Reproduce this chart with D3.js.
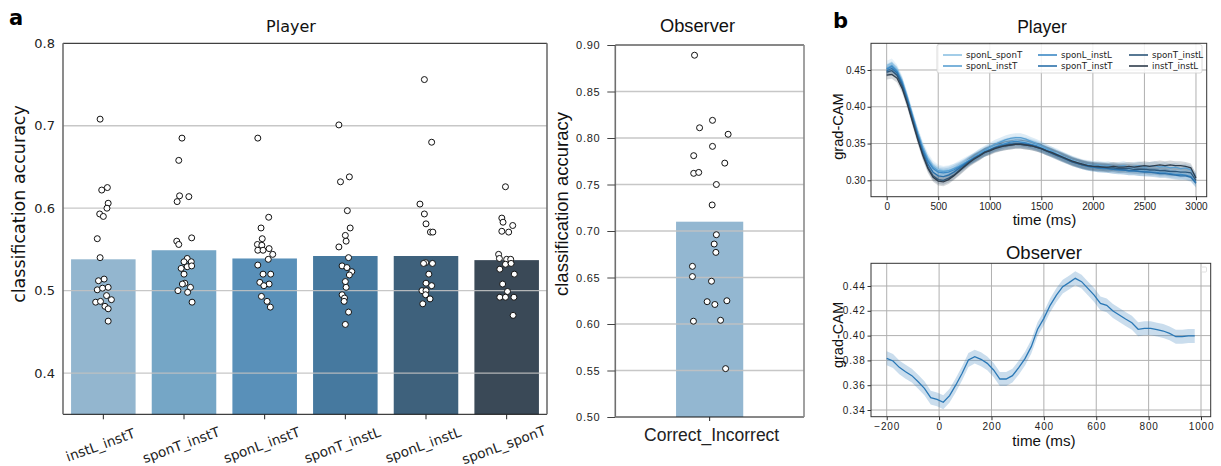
<!DOCTYPE html>
<html>
<head>
<meta charset="utf-8">
<script src="https://cdn.jsdelivr.net/npm/d3@7"></script>
<style>
  body { margin: 0; background: #fff; }
  svg { display: block; }
</style>
</head>
<body>
<svg id="fig" width="1221" height="466"></svg>
<script>
// ---------------- data: panel a (classification accuracy) ----------------
const playerPairs = ['instL_instT', 'sponT_instT', 'sponL_instT', 'sponT_instL', 'sponL_instL', 'sponL_sponT'];
const playerMeans = [0.538, 0.549, 0.539, 0.542, 0.542, 0.537];

// each subject: [accuracy, strip jitter in category units]
const accInstLInstT = [[0.708,-0.04],[0.625,0.05],[0.622,-0.02],[0.606,0.06],[0.600,0.045],[0.593,-0.045],[0.590,0.0],[0.563,-0.075],[0.540,-0.04],[0.512,-0.06],[0.514,0.01],[0.501,-0.075],[0.504,0.06],[0.503,-0.01],[0.494,0.04],[0.486,-0.095],[0.487,-0.035],[0.489,0.1],[0.481,0.02],[0.478,0.06],[0.463,0.06]];
const accSponTInstT = [[0.685,-0.025],[0.658,-0.065],[0.615,-0.055],[0.614,0.06],[0.608,-0.085],[0.560,-0.09],[0.556,-0.065],[0.564,0.095],[0.539,0.04],[0.535,0.0],[0.535,0.09],[0.527,-0.035],[0.529,0.04],[0.530,0.095],[0.520,0.0],[0.509,0.01],[0.508,-0.02],[0.504,0.08],[0.500,-0.075],[0.498,0.045],[0.486,0.1]];
const accSponLInstT = [[0.685,-0.085],[0.589,0.05],[0.576,-0.045],[0.563,-0.03],[0.556,-0.09],[0.555,-0.035],[0.551,0.055],[0.549,-0.085],[0.549,-0.02],[0.544,0.1],[0.538,0.045],[0.531,-0.085],[0.520,-0.02],[0.520,0.075],[0.510,-0.06],[0.508,0.055],[0.506,-0.01],[0.493,-0.04],[0.487,0.03],[0.480,0.07]];
const accSponTInstL = [[0.701,-0.08],[0.632,-0.06],[0.638,0.05],[0.597,0.025],[0.576,0.06],[0.567,0.0],[0.560,0.01],[0.553,-0.08],[0.540,0.04],[0.530,-0.04],[0.528,0.02],[0.523,0.08],[0.519,0.05],[0.511,0.0],[0.504,0.01],[0.495,-0.04],[0.491,-0.01],[0.487,-0.015],[0.474,0.04],[0.459,0.0]];
const accSponLInstL = [[0.756,-0.02],[0.680,0.07],[0.605,-0.075],[0.593,-0.02],[0.581,0.0],[0.571,0.055],[0.571,0.085],[0.534,-0.005],[0.533,-0.03],[0.533,0.08],[0.520,0.035],[0.509,0.0],[0.506,0.07],[0.500,-0.05],[0.500,0.0],[0.495,-0.005],[0.490,0.05],[0.484,-0.04]];
const accSponLSponT = [[0.626,-0.015],[0.588,-0.06],[0.583,-0.045],[0.572,-0.06],[0.579,0.075],[0.571,0.025],[0.544,-0.1],[0.539,-0.09],[0.538,0.0],[0.538,0.05],[0.532,-0.015],[0.533,0.055],[0.526,-0.085],[0.520,0.095],[0.508,-0.05],[0.499,0.01],[0.492,-0.085],[0.492,-0.015],[0.492,0.09],[0.470,0.08]];
const playerScores = [accInstLInstT, accSponTInstT, accSponLInstT, accSponTInstL, accSponLInstL, accSponLSponT];
const playerTicks = [0.4, 0.5, 0.6, 0.7, 0.8];

const observerPair = ['Correct_Incorrect'];
const observerMean = [0.710];
const accObserver = [[0.889,-0.18],[0.819,0.034],[0.811,-0.12],[0.804,0.22],[0.791,0.034],[0.781,-0.19],[0.773,0.18],[0.762,-0.19],[0.763,-0.13],[0.750,0.08],[0.728,0.03],[0.696,0.08],[0.686,0.054],[0.677,0.074],[0.662,-0.205],[0.651,-0.205],[0.646,0.022],[0.625,0.205],[0.624,-0.03],[0.621,0.062],[0.604,0.13],[0.603,-0.193],[0.552,0.19]];
const observerTicks = [0.50, 0.55, 0.60, 0.65, 0.70, 0.75, 0.80, 0.85, 0.90];

// ---------------- data: panel b (grad-CAM time courses) ----------------
const camTimes = [0,50,100,150,200,250,300,350,400,450,500,550,600,650,700,750,800,850,900,950,1000,1050,1100,1150,1200,1250,1300,1350,1400,1450,1500,1550,1600,1650,1700,1750,1800,1850,1900,1950,2000,2050,2100,2150,2200,2250,2300,2350,2400,2450,2500,2550,2600,2650,2700,2750,2800,2850,2900,2950,3000];
const camPairs = ['sponL_sponT', 'sponL_instT', 'sponL_instL', 'sponT_instT', 'sponT_instL', 'instT_instL'];
const camSponLSponT = [0.456,0.459,0.451,0.436,0.414,0.390,0.367,0.347,0.331,0.320, 0.315,0.313,0.314,0.316,0.320,0.324,0.328,0.331,0.336,0.339, 0.343,0.346,0.348,0.351,0.352,0.354,0.353,0.352,0.350,0.348, 0.345,0.342,0.339,0.337,0.333,0.330,0.327,0.325,0.322,0.321, 0.320,0.318,0.319,0.317,0.318,0.316,0.317,0.315,0.316,0.314, 0.315,0.313,0.314,0.312,0.313,0.311,0.312,0.310,0.311,0.309, 0.302];
const camSponLInstT = [0.452,0.456,0.449,0.434,0.412,0.388,0.364,0.344,0.328,0.318, 0.313,0.312,0.313,0.316,0.319,0.323,0.327,0.332,0.337,0.341, 0.345,0.349,0.352,0.355,0.357,0.358,0.358,0.356,0.353,0.350, 0.347,0.343,0.340,0.336,0.333,0.330,0.327,0.324,0.322,0.321, 0.320,0.321,0.319,0.320,0.318,0.319,0.320,0.318,0.319,0.320, 0.318,0.319,0.320,0.318,0.319,0.317,0.318,0.316,0.317,0.314, 0.305];
const camSponLInstL = [0.451,0.455,0.448,0.433,0.411,0.387,0.363,0.342,0.326,0.316, 0.311,0.310,0.311,0.314,0.318,0.322,0.327,0.331,0.335,0.339, 0.342,0.345,0.348,0.350,0.352,0.353,0.352,0.351,0.349,0.347, 0.344,0.341,0.338,0.335,0.332,0.329,0.326,0.323,0.321,0.319, 0.318,0.317,0.316,0.316,0.315,0.314,0.314,0.313,0.313,0.312, 0.312,0.311,0.311,0.310,0.310,0.309,0.308,0.308,0.307,0.305, 0.297];
const camSponTInstT = [0.449,0.452,0.446,0.431,0.409,0.385,0.361,0.339,0.322,0.311, 0.306,0.305,0.307,0.311,0.316,0.321,0.326,0.330,0.334,0.338, 0.341,0.344,0.346,0.348,0.349,0.350,0.350,0.349,0.348,0.346, 0.343,0.340,0.337,0.334,0.331,0.328,0.325,0.323,0.321,0.319, 0.318,0.317,0.317,0.316,0.315,0.315,0.314,0.313,0.313,0.312, 0.311,0.311,0.310,0.309,0.309,0.308,0.307,0.306,0.306,0.304, 0.296];
const camSponTInstL = [0.447,0.449,0.443,0.428,0.406,0.382,0.358,0.336,0.318,0.306, 0.301,0.300,0.303,0.307,0.313,0.319,0.325,0.330,0.334,0.338, 0.341,0.344,0.346,0.347,0.348,0.349,0.349,0.348,0.347,0.345, 0.343,0.340,0.337,0.334,0.331,0.328,0.325,0.323,0.321,0.320, 0.319,0.318,0.318,0.317,0.317,0.316,0.316,0.316,0.315,0.315, 0.315,0.314,0.314,0.313,0.313,0.312,0.312,0.311,0.311,0.310, 0.300];
const camInstTInstL = [0.443,0.444,0.439,0.425,0.404,0.380,0.356,0.334,0.316,0.304, 0.299,0.298,0.301,0.306,0.312,0.318,0.324,0.329,0.333,0.338, 0.340,0.343,0.345,0.347,0.348,0.349,0.349,0.348,0.347,0.345, 0.343,0.340,0.338,0.335,0.332,0.329,0.326,0.324,0.322,0.320, 0.319,0.319,0.318,0.318,0.319,0.318,0.318,0.319,0.318,0.319, 0.320,0.319,0.320,0.321,0.320,0.321,0.320,0.320,0.319,0.317, 0.303];
const camSeries = [camSponLSponT, camSponLInstT, camSponLInstL, camSponTInstT, camSponTInstL, camInstTInstL];
const camSem = [0.0065, 0.006, 0.006, 0.006, 0.006, 0.006];
const camTimeTicks = [0, 500, 1000, 1500, 2000, 2500, 3000];
const camValueTicks = [0.30, 0.35, 0.40, 0.45];

const obsTimes = [-200,-176,-152,-128,-104,-80,-56,-32,-8,16,40,64,88,112,136,160,184,208,232,256,280,304,328,352,376,400,424,448,472,496,520,544,568,592,616,640,664,688,712,736,760,784,808,832,856,880,904,928,952,976];
const obsCam = [0.3817,0.3795,0.3744,0.3709,0.3677,0.3628,0.3575,0.3500,0.3486,0.3462, 0.3516,0.3602,0.3696,0.3803,0.3830,0.3809,0.3776,0.3723,0.3650,0.3650, 0.3677,0.3741,0.3814,0.3911,0.4051,0.4139,0.4244,0.4327,0.4395,0.4427, 0.4462,0.4435,0.4381,0.4327,0.4260,0.4244,0.4198,0.4166,0.4134,0.4104, 0.4051,0.4059,0.4059,0.4048,0.4037,0.4018,0.3991,0.3991,0.3997,0.3997];
const obsSem = 0.0056;
const obsTimeTicks = [-200, 0, 200, 400, 600, 800, 1000];
const obsValueTicks = [0.34, 0.36, 0.38, 0.40, 0.42, 0.44];

// ---------------- styling ----------------
const barColors = ['#93b6cf', '#75a6c6', '#5990b9', '#46799f', '#3e617c', '#3a4957'];
const observerBarColor = '#93b7d1';
const camColors = ['#8cc0e3', '#5aa0d2', '#3b88c4', '#2b71ab', '#2d5679', '#2f3d4c'];
const obsColor = '#2a78b6';
const DEJAVU = 'DejaVu Sans, sans-serif';
const ARIAL = 'Liberation Sans, Arial, sans-serif';

const svg = d3.select('#fig');

function styleAxis(g, family, size, extra) {
  g.attr('font-family', family).attr('font-size', size);
  g.select('.domain').remove();
  g.selectAll('text').attr('fill', '#222');
  if (extra) g.selectAll('text').attr('letter-spacing', extra);
}

// ---------------- panel a: Player ----------------
{
  const A = { x0: 63, x1: 547, y0: 43.3, y1: 414.3 };
  const x = d3.scaleBand().domain(playerPairs).range([A.x0, A.x1]).paddingInner(0.2).paddingOuter(0.1);
  const y = d3.scaleLinear().domain([0.35, 0.8]).range([A.y1, A.y0]);
  const g = svg.append('g');

  // the category labels are trimmed just right of the frame (clip in axis-group coordinates)
  svg.append('defs').append('clipPath').attr('id', 'clipA')
    .append('rect').attr('x', 0).attr('y', -A.y1).attr('width', 553).attr('height', 466);

  g.selectAll('rect.bar').data(playerPairs).join('rect')
    .attr('x', d => x(d)).attr('width', x.bandwidth())
    .attr('y', (d, i) => y(playerMeans[i]))
    .attr('height', (d, i) => y(0.35) - y(playerMeans[i]))
    .attr('fill', (d, i) => barColors[i]);

  g.selectAll('line.grid').data(playerTicks.slice(0, -1)).join('line')
    .attr('x1', A.x0).attr('x2', A.x1).attr('y1', d => y(d)).attr('y2', d => y(d))
    .attr('stroke', '#c2c2c2').attr('stroke-width', 1.3).attr('opacity', 0.9);

  // spines
  g.append('line').attr('x1', A.x0).attr('x2', A.x1).attr('y1', A.y0).attr('y2', A.y0).attr('stroke', '#111').attr('stroke-width', 1);
  g.append('line').attr('x1', A.x0).attr('x2', A.x1).attr('y1', A.y1).attr('y2', A.y1).attr('stroke', '#111').attr('stroke-width', 1);
  g.append('line').attr('x1', A.x0).attr('x2', A.x0).attr('y1', A.y0).attr('y2', A.y1).attr('stroke', '#6f6f6f').attr('stroke-width', 1.6);
  g.append('line').attr('x1', A.x1).attr('x2', A.x1).attr('y1', A.y0).attr('y2', A.y1).attr('stroke', '#6f6f6f').attr('stroke-width', 1.6);

  // subject dots
  playerPairs.forEach((p, i) => {
    g.append('g').selectAll('circle').data(playerScores[i]).join('circle')
      .attr('cx', d => x(p) + x.bandwidth() / 2 + d[1] * x.step())
      .attr('cy', d => y(d[0]))
      .attr('r', 3).attr('fill', '#fff').attr('stroke', '#111').attr('stroke-width', 1);
  });

  const ay = g.append('g').attr('transform', `translate(${A.x0},0)`)
    .call(d3.axisLeft(y).tickValues(playerTicks).tickSize(0).tickPadding(8).tickFormat(d3.format('.1f')));
  styleAxis(ay, DEJAVU, 13);

  const ax = g.append('g').attr('clip-path', 'url(#clipA)').attr('transform', `translate(0,${A.y1})`)
    .call(d3.axisBottom(x).tickSize(5).tickPadding(0));
  styleAxis(ax, DEJAVU, 13.6);
  ax.selectAll('line').attr('stroke', '#222');
  ax.selectAll('text').attr('y', 0).attr('dy', null)
    .attr('text-anchor', 'middle').attr('dominant-baseline', 'central')
    .attr('transform', 'translate(-3,30.5) rotate(-20)');

  svg.append('text').attr('x', 291).attr('y', 31.5).attr('text-anchor', 'middle')
    .attr('font-family', DEJAVU).attr('font-size', 16).attr('fill', '#111').text('Player');
  svg.append('text').attr('transform', 'translate(25,204) rotate(-90)').attr('text-anchor', 'middle')
    .attr('font-family', DEJAVU).attr('font-size', 17.5).attr('fill', '#111').text('classification accuracy');
  svg.append('text').attr('x', 9).attr('y', 24.5)
    .attr('font-family', DEJAVU).attr('font-weight', 'bold').attr('font-size', 21).attr('fill', '#000').text('a');
}

// ---------------- panel a: Observer ----------------
{
  const B = { x0: 615.3, x1: 804, y0: 45, y1: 417 };
  const x = d3.scaleBand().domain(observerPair).range([B.x0, B.x1]).paddingInner(0.2).paddingOuter(0.7235);
  const y = d3.scaleLinear().domain([0.5, 0.9]).range([B.y1, B.y0]);
  const g = svg.append('g');

  g.selectAll('rect.bar').data(observerPair).join('rect')
    .attr('x', d => x(d)).attr('width', x.bandwidth())
    .attr('y', (d, i) => y(observerMean[i]))
    .attr('height', (d, i) => y(0.5) - y(observerMean[i]))
    .attr('fill', observerBarColor);

  g.selectAll('line.grid').data(observerTicks.slice(1, -1)).join('line')
    .attr('x1', B.x0).attr('x2', B.x1).attr('y1', d => y(d)).attr('y2', d => y(d))
    .attr('stroke', '#c2c2c2').attr('stroke-width', 1.3).attr('opacity', 0.9);

  g.append('line').attr('x1', B.x0).attr('x2', B.x1).attr('y1', B.y0).attr('y2', B.y0).attr('stroke', '#111').attr('stroke-width', 1);
  g.append('line').attr('x1', B.x0).attr('x2', B.x1).attr('y1', B.y1).attr('y2', B.y1).attr('stroke', '#111').attr('stroke-width', 1);
  g.append('line').attr('x1', B.x0).attr('x2', B.x0).attr('y1', B.y0).attr('y2', B.y1).attr('stroke', '#6f6f6f').attr('stroke-width', 1.6);
  g.append('line').attr('x1', B.x1).attr('x2', B.x1).attr('y1', B.y0).attr('y2', B.y1).attr('stroke', '#8a8a8a').attr('stroke-width', 1.6);

  const step = x.bandwidth() / 0.8;
  g.append('g').selectAll('circle').data(accObserver).join('circle')
    .attr('cx', d => x(observerPair[0]) + x.bandwidth() / 2 + d[1] * step)
    .attr('cy', d => y(d[0]))
    .attr('r', 3).attr('fill', '#fff').attr('stroke', '#111').attr('stroke-width', 1);

  const ay = g.append('g').attr('transform', `translate(${B.x0},0)`)
    .call(d3.axisLeft(y).tickValues(observerTicks).tickSize(8).tickPadding(7).tickFormat(d3.format('.2f')));
  styleAxis(ay, ARIAL, 11, 0.7);
  ay.selectAll('line').attr('stroke', '#444');

  const ax = g.append('g').attr('transform', `translate(0,${B.y1})`)
    .call(d3.axisBottom(x).tickSize(4).tickPadding(0));
  styleAxis(ax, ARIAL, 17.5);
  ax.selectAll('line').attr('stroke', '#222');
  ax.selectAll('text').attr('y', 24).attr('dy', null).attr('x', 2);

  svg.append('text').attr('x', 697.5).attr('y', 32.3).attr('text-anchor', 'middle')
    .attr('font-family', ARIAL).attr('font-size', 18.3).attr('fill', '#111').text('Observer');
  svg.append('text').attr('transform', 'translate(568,204) rotate(-90)').attr('text-anchor', 'middle')
    .attr('font-family', ARIAL).attr('font-size', 18.5).attr('fill', '#111').text('classification accuracy');
}

// ---------------- panel b: grad-CAM time courses ----------------
function camFrame(box, x, y, xTicks, yTicks, yFmt, tickSpacing) {
  const g = svg.append('g');
  g.selectAll('line.gx').data(xTicks).join('line')
    .attr('x1', d => x(d)).attr('x2', d => x(d)).attr('y1', box.y0).attr('y2', box.y1)
    .attr('stroke', '#b0b0b0').attr('stroke-width', 1);
  g.selectAll('line.gy').data(yTicks).join('line')
    .attr('x1', box.x0).attr('x2', box.x1).attr('y1', d => y(d)).attr('y2', d => y(d))
    .attr('stroke', '#b0b0b0').attr('stroke-width', 1);

  const ax = g.append('g').attr('transform', `translate(0,${box.y1})`)
    .call(d3.axisBottom(x).tickValues(xTicks).tickSize(3.5).tickPadding(2.5).tickFormat(d3.format('d')));
  styleAxis(ax, ARIAL, 10, tickSpacing);
  ax.selectAll('line').attr('stroke', '#333');
  const ay = g.append('g').attr('transform', `translate(${box.x0},0)`)
    .call(d3.axisLeft(y).tickValues(yTicks).tickSize(3.5).tickPadding(2).tickFormat(d3.format(yFmt)));
  styleAxis(ay, ARIAL, 10, tickSpacing);
  ay.selectAll('line').attr('stroke', '#333');
  return g;
}
function camSpines(box) {
  svg.append('rect').attr('x', box.x0).attr('y', box.y0)
    .attr('width', box.x1 - box.x0).attr('height', box.y1 - box.y0)
    .attr('fill', 'none').attr('stroke', '#333').attr('stroke-width', 1);
}

// Player time courses
{
  const P = { x0: 871, x1: 1206.7, y0: 43.3, y1: 196.7 };
  const x = d3.scaleLinear().domain([-152, 3104]).range([P.x0, P.x1]);
  const y = d3.scaleLinear().domain([0.2777, 0.4863]).range([P.y1, P.y0]);
  camFrame(P, x, y, camTimeTicks, camValueTicks, '.2f', 0);

  const g = svg.append('g');
  camSeries.forEach((vals, i) => {
    const area = d3.area().x((d, j) => x(camTimes[j]))
      .y0(d => y(d - camSem[i])).y1(d => y(d + camSem[i]));
    g.append('path').datum(vals).attr('d', area).attr('fill', camColors[i]).attr('opacity', 0.2);
  });
  camSeries.forEach((vals, i) => {
    const line = d3.line().x((d, j) => x(camTimes[j])).y(d => y(d));
    g.append('path').datum(vals).attr('d', line).attr('fill', 'none')
      .attr('stroke', camColors[i]).attr('stroke-width', 1.3);
  });
  camSpines(P);

  // legend, filled column by column
  const leg = svg.append('g');
  leg.append('rect').attr('x', 937).attr('y', 44.5).attr('width', 265).attr('height', 28.5).attr('rx', 2)
    .attr('fill', '#fff').attr('fill-opacity', 0.85).attr('stroke', '#d0d0d0').attr('stroke-width', 0.8);
  const colX = [943, 1038, 1129];
  const rowY = [55, 66];
  camPairs.forEach((name, i) => {
    const cx = colX[Math.floor(i / 2)], cy = rowY[i % 2];
    leg.append('line').attr('x1', cx).attr('x2', cx + 19).attr('y1', cy).attr('y2', cy)
      .attr('stroke', camColors[i]).attr('stroke-width', 1.6);
    leg.append('text').attr('x', cx + 23).attr('y', cy + 3)
      .attr('font-family', DEJAVU).attr('font-size', 8.7).attr('fill', '#222').text(name);
  });

  svg.append('text').attr('x', 1042).attr('y', 33).attr('text-anchor', 'middle')
    .attr('font-family', ARIAL).attr('font-size', 17.5).attr('fill', '#111').text('Player');
  svg.append('text').attr('x', 1044.5).attr('y', 224.5).attr('text-anchor', 'middle')
    .attr('font-family', ARIAL).attr('font-size', 15.3).attr('fill', '#111').text('time (ms)');
  svg.append('text').attr('transform', 'translate(843,126.5) rotate(-90)').attr('text-anchor', 'middle')
    .attr('font-family', ARIAL).attr('font-size', 14.6).attr('fill', '#111').text('grad-CAM');
  svg.append('text').attr('x', 833).attr('y', 28)
    .attr('font-family', DEJAVU).attr('font-weight', 'bold').attr('font-size', 21).attr('fill', '#000').text('b');
}

// Observer time course
{
  const O = { x0: 871, x1: 1210.7, y0: 263.3, y1: 416.7 };
  const x = d3.scaleLinear().domain([-260, 1037]).range([O.x0, O.x1]);
  const y = d3.scaleLinear().domain([0.3346, 0.4583]).range([O.y1, O.y0]);
  camFrame(O, x, y, obsTimeTicks, obsValueTicks, '.2f', 0.8);

  const area = d3.area().x((d, j) => x(obsTimes[j]))
    .y0(d => y(d - obsSem)).y1(d => y(d + obsSem));
  svg.append('path').datum(obsCam).attr('d', area).attr('fill', obsColor).attr('opacity', 0.25);
  const line = d3.line().x((d, j) => x(obsTimes[j])).y(d => y(d));
  svg.append('path').datum(obsCam).attr('d', line).attr('fill', 'none')
    .attr('stroke', obsColor).attr('stroke-width', 1.3);
  camSpines(O);

  // empty legend frame
  svg.append('rect').attr('x', 1201.5).attr('y', 267).attr('width', 5).attr('height', 5).attr('rx', 1)
    .attr('fill', '#fff').attr('stroke', '#d8d8d8').attr('stroke-width', 0.8);

  svg.append('text').attr('x', 1044).attr('y', 259).attr('text-anchor', 'middle')
    .attr('font-family', ARIAL).attr('font-size', 18.5).attr('fill', '#111').text('Observer');
  svg.append('text').attr('x', 1044).attr('y', 446).attr('text-anchor', 'middle')
    .attr('font-family', ARIAL).attr('font-size', 15.2).attr('fill', '#111').text('time (ms)');
  svg.append('text').attr('transform', 'translate(843,335) rotate(-90)').attr('text-anchor', 'middle')
    .attr('font-family', ARIAL).attr('font-size', 14.5).attr('fill', '#111').text('grad-CAM');
}
</script>
</body>
</html>
